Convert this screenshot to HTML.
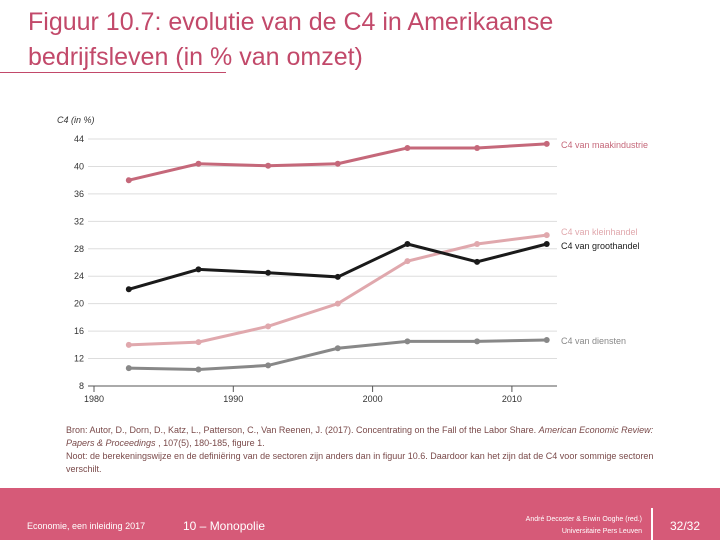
<!DOCTYPE html>
<html><head><meta charset="utf-8"><style>
body{margin:0;width:720px;height:540px;position:relative;background:#fff;font-family:"Liberation Sans",sans-serif;overflow:hidden}
.t{position:absolute;left:28px;top:5px;font-size:25px;line-height:35px;color:#c2496a}
.ft{position:absolute;font-size:9px;color:#7a4a4a;left:66px;top:424px;width:600px;line-height:13px}
.bar{position:absolute;left:0;top:488px;width:720px;height:52px;background:#d65a78;color:#fff}
</style></head><body>
<div class="t">Figuur 10.7: evolutie van de C4 in Amerikaanse<br>bedrijfsleven (in % van omzet)</div>
<div style="position:absolute;left:0;top:72px;width:226px;height:1px;background:#c2496a"></div>
<svg id="c" width="720" height="420" style="position:absolute;left:0;top:0"></svg>
<div class="ft">Bron: Autor, D., Dorn, D., Katz, L., Patterson, C., Van Reenen, J. (2017). Concentrating on the Fall of the Labor Share. <i>American Economic Review: Papers &amp; Proceedings</i> , 107(5), 180-185, figure 1.<br>Noot: de berekeningswijze en de definiëring van de sectoren zijn anders dan in figuur 10.6. Daardoor kan het zijn dat de C4 voor sommige sectoren verschilt.</div>
<div class="bar">
<span style="position:absolute;left:27px;top:33px;font-size:9px">Economie, een inleiding 2017</span>
<span style="position:absolute;left:183px;top:31px;font-size:12px">10 – Monopolie</span>
<span style="position:absolute;right:78px;top:26px;font-size:7px;text-align:right;line-height:12px">André Decoster &amp; Erwin Ooghe (red.)<br>Universitaire Pers Leuven</span>
<div style="position:absolute;left:651px;top:20px;width:2px;height:32px;background:#fff"></div>
<span style="position:absolute;left:670px;top:31px;font-size:12px">32/32</span>
</div>
<script>
const years=[1982.5,1987.5,1992.5,1997.5,2002.5,2007.5,2012.5];
const maak=[38,40.4,40.1,40.4,42.7,42.7,43.3];
const groot=[22.1,25,24.5,23.9,28.7,26.1,28.7];
const klein=[14,14.4,16.7,20,26.2,28.7,30];
const dienst=[10.6,10.4,11,13.5,14.5,14.5,14.7];
const yTicks=[8,12,16,20,24,28,32,36,40,44];
const xTicks=[1980,1990,2000,2010];
const X=v=>94+(v-1980)*13.93;
const Y=v=>386-(v-8)*6.86;
const s=document.getElementById('c'),N='http://www.w3.org/2000/svg';
function mk(t,a,txt){const e=document.createElementNS(N,t);for(const k in a)e.setAttribute(k,a[k]);if(txt!==undefined)e.textContent=txt;s.appendChild(e);return e;}
let e=mk('text',{x:57,y:123,'font-size':9,'font-style':'italic',fill:'#333'},'C4 (in %)');

yTicks.forEach(v=>{
 if(v>8){e=mk('line',{x1:88,x2:557,y1:Y(v),y2:Y(v),stroke:'#ddd','stroke-width':1});
 }
 e=mk('text',{x:84,y:Y(v)+3,'font-size':9,'text-anchor':'end',fill:'#333'},v);
 
});
e=mk('line',{x1:88,x2:557,y1:386,y2:386,stroke:'#555','stroke-width':1});

xTicks.forEach(v=>{
 e=mk('line',{x1:X(v),x2:X(v),y1:386,y2:392,stroke:'#555'});
 
 e=mk('text',{x:X(v),y:402,'font-size':9,'text-anchor':'middle',fill:'#333'},v);
 
});
const series=[[maak,'#c5687a','C4 van maakindustrie','series-maakindustrie',0],[klein,'#e0a8ad','C4 van kleinhandel','series-kleinhandel',-4],[groot,'#1a1a1a','C4 van groothandel','series-groothandel',1],[dienst,'#888','C4 van diensten','series-diensten',0]];
series.forEach(([d,c,lab,nm,off])=>{
 e=mk('polyline',{points:d.map((v,i)=>X(years[i])+','+Y(v)).join(' '),fill:'none',stroke:c,'stroke-width':3});
 
 d.forEach((v,i)=>{e=mk('circle',{cx:X(years[i]),cy:Y(v),r:3,fill:c});
 });
 e=mk('text',{x:561,y:Y(d[d.length-1])+4+off,'font-size':9,fill:c},lab);
 
});
</script>
</body></html>
